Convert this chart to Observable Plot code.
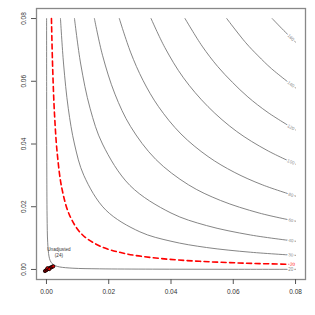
<!DOCTYPE html>
<html><head><meta charset="utf-8">
<script src="https://cdn.jsdelivr.net/npm/d3@7"></script>
<script src="https://cdn.jsdelivr.net/npm/@observablehq/plot@0.6"></script>
<style>body{margin:0;background:#fff;font-family:"Liberation Sans",Arial,sans-serif} #chart{width:315px;height:315px}</style>
</head><body><div id="chart"></div>
<script>
const xTicks = [0, 0.02, 0.04, 0.06, 0.08];
const yTicks = [0, 0.02, 0.04, 0.06, 0.08];
const c20 = [[0.0000425,0.08],[0.00006,0.0567],[0.0001,0.034],[0.0002,0.017],[0.0004,0.0085],[0.0008,0.00425],[0.0012,0.00283],[0.00184,0.00184],[0.00283,0.0012],[0.00425,0.0008],[0.0085,0.0004],[0.017,0.0002],[0.034,0.0001],[0.0567,0.00006],[0.08,0.0000425]];
const cRed = [[0.0016,0.08],[0.002,0.064],[0.0026,0.0492],[0.0035,0.0366],[0.005,0.0256],[0.0075,0.0171],[0.0113,0.0113],[0.0171,0.0075],[0.0256,0.005],[0.0366,0.0035],[0.0492,0.0026],[0.064,0.002],[0.08,0.0016]];
const c30 = [[0.0045,0.08],[0.0055,0.0655],[0.007,0.0514],[0.009,0.04],[0.012,0.03],[0.019,0.019],[0.03,0.012],[0.04,0.009],[0.0514,0.007],[0.0655,0.0055],[0.08,0.0045]];
const c40 = [[0.009,0.08],[0.011,0.0655],[0.014,0.0514],[0.018,0.04],[0.0268,0.0268],[0.04,0.018],[0.0514,0.014],[0.0655,0.011],[0.08,0.009]];
const c60 = [[0.0154,0.08],[0.018,0.0683],[0.022,0.0559],[0.027,0.0456],[0.0351,0.0351],[0.0456,0.027],[0.0559,0.022],[0.0683,0.018],[0.08,0.0154]];
const c80 = [[0.0234,0.08],[0.027,0.0693],[0.031,0.0603],[0.036,0.0519],[0.0432,0.0432],[0.0519,0.036],[0.0603,0.031],[0.0693,0.027],[0.08,0.0234]];
const c100 = [[0.0336,0.08],[0.038,0.0708],[0.044,0.0611],[0.0519,0.0519],[0.0611,0.044],[0.0708,0.038],[0.08,0.0336]];
const c120 = [[0.0445,0.08],[0.05,0.0712],[0.055,0.0647],[0.0597,0.0597],[0.0647,0.055],[0.0712,0.05],[0.08,0.0445]];
const c140 = [[0.0579,0.08],[0.064,0.0723],[0.068,0.0681],[0.0723,0.064],[0.08,0.0579]];
const c160 = [[0.0725,0.08],[0.0762,0.0762],[0.08,0.0725]];
const grayLevels = ["20","30","40","60","80","100","120","140","160"];
const grayCurves = [c20,c30,c40,c60,c80,c100,c120,c140,c160];
const labelText = ["20","20","30","40","60","80","100","120","140","160"];
const labelX = [0.0785,0.079,0.0785,0.0785,0.0785,0.0785,0.0785,0.0785,0.0785,0.0785];
const labelY = [0.00004,0.00162,0.0046,0.0092,0.0157,0.0238,0.0343,0.0453,0.059,0.0739];
const labelAngle = [0,1,3,7,11,17,24,30,37,44];
const labelIsRed = [false,true,false,false,false,false,false,false,false,false];
const cloudX = [-0.0005,-0.0002,0.0001,0.0004,0.0007,0.001,0.0013,0.0016,0.0019,0.0022,0.0003,0.0009];
const cloudY = [-0.0005,-0.0003,-0.0001,0.0001,0.0003,0.0004,0.0006,0.0007,0.0009,0.001,0.0004,0.0001];
const annoText = ["Unadjusted","(24)"];
const annoX = [0.004,0.004];
const annoY = [0.0065,0.0045];

const grayRows = grayCurves.flatMap((c,i)=>c.map(([x,y])=>({level:grayLevels[i],x,y})));
const redRows = cRed.map(([x,y])=>({x,y}));
const labels = labelText.map((t,i)=>({t,x:labelX[i],y:labelY[i],a:labelAngle[i],red:labelIsRed[i]}));
const cloud = cloudX.map((x,i)=>({x,y:cloudY[i]}));
const anno = annoText.map((t,i)=>({t,x:annoX[i],y:annoY[i]}));

const chart = Plot.plot({
  width:315, height:315,
  marginLeft:36, marginRight:10, marginTop:8, marginBottom:36,
  style:{fontFamily:"'Liberation Sans', Arial, sans-serif", color:"#333", background:"#fff"},
  x:{domain:[-0.0032,0.0832]},
  y:{domain:[-0.0032,0.0832]},
  marks:[
    Plot.line(grayRows,{x:"x",y:"y",z:"level",stroke:"#6f6f6f",strokeWidth:0.85,curve:"catmull-rom"}),
    Plot.line(redRows,{x:"x",y:"y",stroke:"#ff0000",strokeWidth:1.6,strokeDasharray:"5,3.5",curve:"catmull-rom"}),
    Plot.text(labels,{x:"x",y:"y",text:"t",rotate:"a",fontSize:4.5,fill:d=>d.red?"#ff0000":"#888",stroke:"#fff",strokeWidth:2.5}),
    Plot.dot(cloud,{x:"x",y:"y",r:1.6,fill:"#e00000",stroke:"#000",strokeWidth:0.8}),
    Plot.text(anno,{x:"x",y:"y",text:"t",fontSize:4.6,fill:"#333"}),
    Plot.frame({stroke:"#888",strokeWidth:1.3}),
    Plot.axisX({ticks:xTicks,tickSize:5,tickPadding:5,tickFormat:d=>d.toFixed(2),fontSize:6.5,label:null,stroke:"#555"}),
    Plot.axisY({ticks:yTicks,tickSize:5,tickFormat:()=>"",label:null,stroke:"#555"}),
    Plot.text(yTicks,{y:d=>d,frameAnchor:"left",dx:-11,rotate:-90,text:d=>d.toFixed(2),textAnchor:"middle",lineAnchor:"bottom",fontSize:6.5,fill:"#333"})
  ]
});
document.getElementById("chart").appendChild(chart);
</script>
</body></html>
